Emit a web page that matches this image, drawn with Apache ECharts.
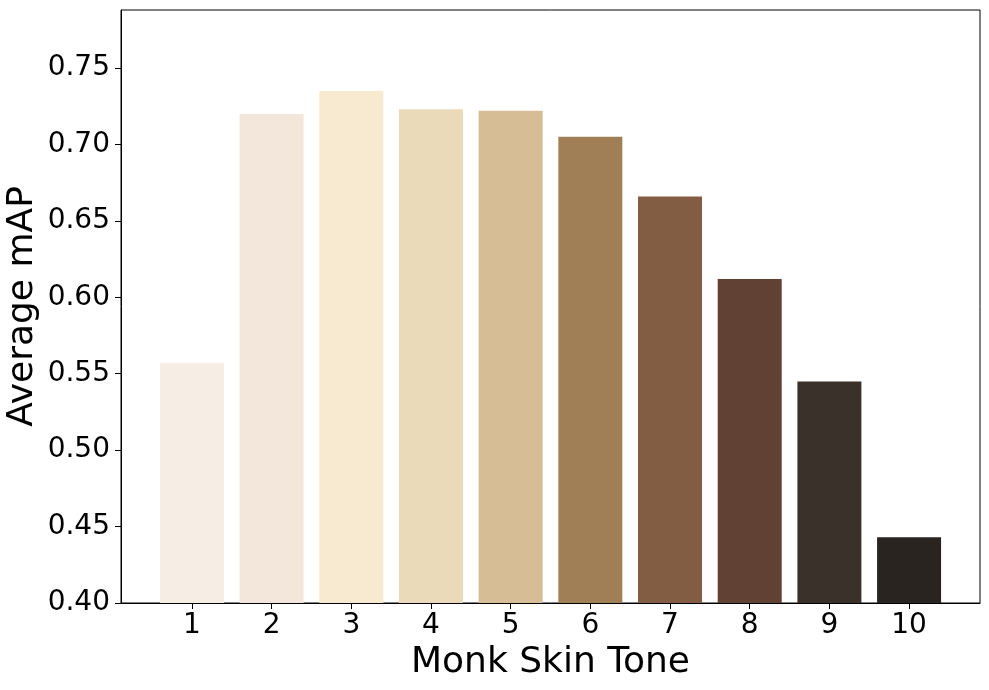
<!DOCTYPE html>
<html>
<head>
<meta charset="utf-8">
<script src="https://cdn.jsdelivr.net/npm/echarts@6/dist/echarts.min.js"></script>
<style>
  html, body { margin: 0; padding: 0; background: #fff; }
  #chart { width: 989px; height: 690px; }
</style>
</head>
<body>
<div id="chart"></div>
<script>
// Monk skin tone scale, 1..10
const tones = [1, 2, 3, 4, 5, 6, 7, 8, 9, 10]
const avgMAP = [0.557, 0.720, 0.735, 0.723, 0.722, 0.705, 0.666, 0.612, 0.545, 0.443]
const toneColors = ['#f6ede4', '#f3e7db', '#f7ead0', '#eadaba', '#d7bd96',
                    '#a07e56', '#825c43', '#604134', '#3a312a', '#292420']
const yTicks = [0.40, 0.45, 0.50, 0.55, 0.60, 0.65, 0.70, 0.75]

const font = 'DejaVu Sans'
const myChart = echarts.init(document.getElementById('chart'))

const option = {
  animation: false,
  grid: {
    left: 121,
    right: 9,
    top: 10,
    bottom: 87,
    containLabel: false,
    outerBoundsMode: 'none',
    show: true,
    borderColor: '#000',
    borderWidth: 1
  },
  xAxis: {
    type: 'value',
    min: 0.11,
    max: 10.89,
    name: 'Monk Skin Tone',
    nameLocation: 'middle',
    nameGap: 42,
    nameMoveOverlap: false,
    nameTextStyle: { fontFamily: font, fontSize: 36, color: '#000' },
    axisLine: { show: true, onZero: false, lineStyle: { color: '#000', width: 1 } },
    axisTick: { show: true, inside: false, length: 6, customValues: tones, lineStyle: { color: '#000' } },
    axisLabel: {
      customValues: tones,
      fontFamily: font, fontSize: 28, color: '#000', margin: 9
    },
    splitLine: { show: false }
  },
  yAxis: {
    type: 'value',
    min: 0.40,
    max: 0.788,
    name: 'Average mAP',
    nameLocation: 'middle',
    nameGap: 80,
    nameMoveOverlap: false,
    nameTextStyle: { fontFamily: font, fontSize: 36, color: '#000' },
    axisLine: { show: true, lineStyle: { color: '#000', width: 1 } },
    axisTick: { show: true, inside: false, length: 6, customValues: yTicks, lineStyle: { color: '#000' } },
    axisLabel: {
      customValues: yTicks,
      fontFamily: font, fontSize: 28, color: '#000', margin: 11,
      formatter: v => v.toFixed(2)
    },
    splitLine: { show: false }
  },
  series: [
    {
      type: 'bar',
      barWidth: 64,
      data: tones.map((t, i) => ({
        value: [t, avgMAP[i]],
        itemStyle: { color: toneColors[i] }
      }))
    }
  ]
}
myChart.setOption(option)
</script>
</body>
</html>
